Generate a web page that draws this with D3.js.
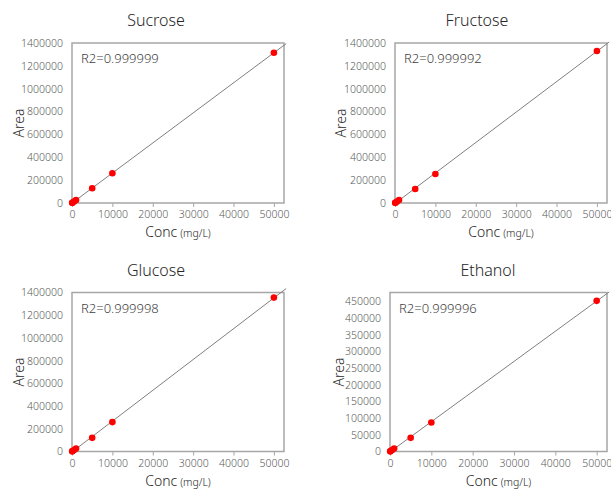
<!DOCTYPE html>
<html><head><meta charset="utf-8">
<script src="https://cdn.jsdelivr.net/npm/d3@7"></script>
<style>
html,body{margin:0;padding:0;background:#fff;}
text{font-family:"Noto Sans","Noto Sans CJK JP",sans-serif;font-weight:300;}
</style></head>
<body><svg id="c" width="611" height="489"></svg>
<script>
// ---- data ----
const compounds = ["Sucrose", "Fructose", "Glucose", "Ethanol"];
const conc = [50, 100, 500, 1000, 5000, 10000, 50000];
const areaSucrose  = [1300, 2600, 13100, 26200, 129000, 260000, 1315000];
const areaFructose = [1330, 2660, 13300, 26600, 122000, 254000, 1330000];
const areaGlucose  = [1350, 2700, 13500, 27000, 120000, 259000, 1355000];
const areaEthanol  = [450, 900, 4500, 9000, 41000, 86800, 452000];
const r2Values = ["0.999999", "0.999992", "0.999998", "0.999996"];
const xTicks = [0, 10000, 20000, 30000, 40000, 50000];
const yTicksSugar = [0, 200000, 400000, 600000, 800000, 1000000, 1200000, 1400000];
const yTicksEthanol = [0, 50000, 100000, 150000, 200000, 250000, 300000, 350000, 400000, 450000];
const xMax = 52500;
const yMaxSugar = 1400000;
const yMaxEthanol = 477000;

const seriesList = [areaSucrose, areaFructose, areaGlucose, areaEthanol];
const yTickList = [yTicksSugar, yTicksSugar, yTicksSugar, yTicksEthanol];
const yMaxList = [yMaxSugar, yMaxSugar, yMaxSugar, yMaxEthanol];

// ---- layout ----
const panels = [
  {x0:72, x1:284, y0:43, y1:203, tx:156, ty:26, ax:18},
  {x0:395, x1:607, y0:43, y1:203, tx:477, ty:26, ax:340},
  {x0:72, x1:284, y0:292.5, y1:451.5, tx:156, ty:276, ax:18},
  {x0:390, x1:607, y0:292.5, y1:451.5, tx:488, ty:276, ax:338}
];

const svg = d3.select("#c");

compounds.forEach((name, i) => {
  const p = panels[i];
  const vals = seriesList[i];
  const x = d3.scaleLinear().domain([0, xMax]).range([p.x0, p.x1]);
  const y = d3.scaleLinear().domain([0, yMaxList[i]]).range([p.y1, p.y0]);
  const g = svg.append("g");

  // title
  g.append("text").attr("x", p.tx).attr("y", p.ty).attr("text-anchor", "middle")
    .attr("font-size", 16).attr("fill", "#262626").text(name);

  // x axis
  const xa = g.append("g").attr("transform", `translate(0,${p.y1})`)
    .call(d3.axisBottom(x).tickValues(xTicks).tickSize(4).tickSizeOuter(0).tickPadding(4).tickFormat(d3.format("d")));
  xa.select(".domain").remove();
  xa.selectAll("line").attr("stroke", "#a6a6a6");
  xa.selectAll("text").attr("font-size", 10.5).attr("fill", "#595959")
    .attr("font-family", "\"Noto Sans\",sans-serif").attr("font-weight", 400);

  // y axis
  const ya = g.append("g").attr("transform", `translate(${p.x0},0)`)
    .call(d3.axisLeft(y).tickValues(yTickList[i]).tickSize(0).tickPadding(9).tickFormat(d3.format("d")));
  ya.select(".domain").remove();
  ya.selectAll("text").attr("font-size", 10.5).attr("fill", "#595959")
    .attr("font-family", "\"Noto Sans\",sans-serif").attr("font-weight", 400);

  // plot border
  g.append("rect").attr("x", p.x0).attr("y", p.y0).attr("width", p.x1 - p.x0).attr("height", p.y1 - p.y0)
    .attr("fill", "none").attr("stroke", "#a6a6a6").attr("stroke-width", 1.5);

  // linear trendline (least squares through the points)
  const mx = d3.mean(conc), my = d3.mean(vals);
  const sxy = d3.sum(conc, (c, k) => (c - mx) * (vals[k] - my));
  const sxx = d3.sum(conc, c => (c - mx) * (c - mx));
  const slope = sxy / sxx, icpt = my - slope * mx;
  const xEnd = xMax * 1.01;
  g.append("line")
    .attr("x1", x(0)).attr("y1", y(icpt))
    .attr("x2", x(xEnd)).attr("y2", y(icpt + slope * xEnd))
    .attr("stroke", "#7f7f7f").attr("stroke-width", 1);

  // points
  g.selectAll("circle.pt").data(conc).join("circle").attr("class", "pt")
    .attr("cx", d => x(d)).attr("cy", (d, k) => y(vals[k])).attr("r", 3.3)
    .attr("fill", "#ff0000");

  // R2 label
  g.append("text").attr("x", p.x0 + 9).attr("y", p.y0 + 20)
    .attr("font-size", 13).attr("fill", "#404040").text("R2=" + r2Values[i]);

  // y title
  g.append("text").attr("transform", `translate(${p.ax},${(p.y0 + p.y1) / 2}) rotate(-90)`)
    .attr("text-anchor", "middle").attr("dominant-baseline", "central")
    .attr("font-size", 14).attr("fill", "#262626").text("Area");

  // x title
  const xt = g.append("text").attr("x", (p.x0 + p.x1) / 2).attr("y", p.y1 + 34)
    .attr("text-anchor", "middle").attr("fill", "#262626");
  xt.append("tspan").attr("font-size", 14).text("Conc");
  xt.append("tspan").attr("font-size", 10.5).attr("dx", 3).text("(mg/L)");
});
</script></body></html>
